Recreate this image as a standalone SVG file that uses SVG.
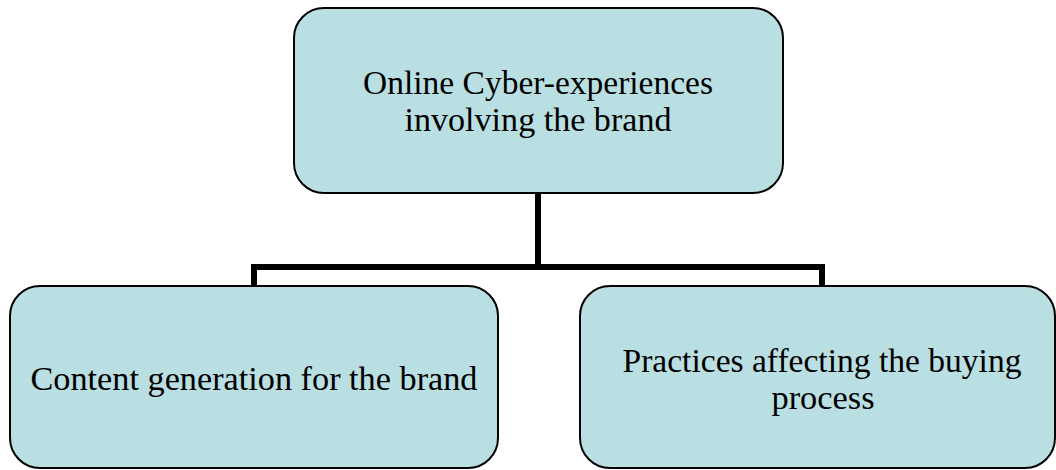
<svg xmlns="http://www.w3.org/2000/svg" width="1056" height="470" viewBox="0 0 1056 470">
<style>
.box{fill:#B9DFE3;stroke:#000;stroke-width:2}
.lbl{font-family:"Liberation Serif","DejaVu Serif",serif;font-size:33px;fill:#000;text-anchor:middle}
.conn{fill:none;stroke:#000;stroke-width:6;stroke-linejoin:miter}
</style>
<rect width="1056" height="470" fill="#fff"/>
<g id="connectors">
<path class="conn" d="M538 193 V267 M254 286 V267 H822 V286"/>
</g>
<g id="node-top">
<rect class="box" x="294" y="8" width="489" height="185" rx="30" ry="30"/>
<text class="lbl" x="538" y="94" textLength="350" lengthAdjust="spacingAndGlyphs">Online Cyber-experiences</text>
<text class="lbl" x="538" y="131" textLength="267" lengthAdjust="spacingAndGlyphs">involving the brand</text>
</g>
<g id="node-left">
<rect class="box" x="10" y="286" width="488" height="182" rx="30" ry="30"/>
<text class="lbl" x="254" y="390" textLength="447" lengthAdjust="spacingAndGlyphs">Content generation for the brand</text>
</g>
<g id="node-right">
<rect class="box" x="580" y="286" width="475" height="182" rx="30" ry="30"/>
<text class="lbl" x="822" y="372" textLength="399" lengthAdjust="spacingAndGlyphs">Practices affecting the buying</text>
<text class="lbl" x="823" y="409" textLength="103" lengthAdjust="spacingAndGlyphs">process</text>
</g>
</svg>
